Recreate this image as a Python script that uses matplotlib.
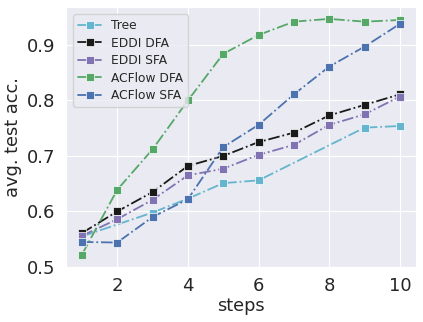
import numpy as np
import matplotlib
matplotlib.use('Agg')
from matplotlib import pyplot as plt
import seaborn as sns

sns.set_style('darkgrid')
plt.rcParams['font.family'] = ['DejaVu Sans']

# values
steps = [1, 2, 3, 4, 5, 6, 7, 8, 9, 10]
tree_steps = [1, 3, 4, 5, 6, 9, 10]
tree = [0.555, 0.598, 0.623, 0.651, 0.656, 0.751, 0.754]
eddi_dfa = [0.561, 0.600, 0.635, 0.682, 0.700, 0.725, 0.742, 0.773, 0.792, 0.811]
eddi_sfa = [0.556, 0.586, 0.621, 0.665, 0.677, 0.702, 0.720, 0.756, 0.775, 0.807]
acflow_dfa = [0.522, 0.639, 0.712, 0.800, 0.884, 0.918, 0.942, 0.947, 0.942, 0.945]
acflow_sfa = [0.545, 0.544, 0.590, 0.622, 0.716, 0.756, 0.811, 0.861, 0.897, 0.938]

fig = plt.figure(figsize=(4.23, 3.22), dpi=100)
ax = fig.add_axes([0.156, 0.171, 0.827, 0.807])

kw = dict(ls='-.', marker='s', ms=5.5, lw=1.3, mec='white', mew=0.5)
ax.plot(tree_steps, tree, color='#64B5CD', label='Tree', **kw)
ax.plot(steps, eddi_dfa, color='#1a1a1a', label='EDDI DFA', **kw)
ax.plot(steps, eddi_sfa, color='#8172B2', label='EDDI SFA', **kw)
ax.plot(steps, acflow_dfa, color='#55A868', label='ACFlow DFA', **kw)
ax.plot(steps, acflow_sfa, color='#4C72B0', label='ACFlow SFA', **kw)

ax.set_xticks([2, 4, 6, 8, 10])
ax.set_yticks([0.5, 0.6, 0.7, 0.8, 0.9])
ax.tick_params(labelsize=13, colors='#262626', pad=4)
ax.set_xlabel('steps', fontsize=12.8, color='#262626', labelpad=1)
ax.set_ylabel('avg. test acc.', fontsize=12.8, color='#262626', labelpad=4)

leg = ax.legend(loc='upper left', fontsize=8.8, frameon=True,
                handlelength=1.9, borderaxespad=0.6, labelspacing=0.36)
for h in leg.get_lines():
    h.set_linestyle('-')

fig.savefig('out.png', dpi=100)
